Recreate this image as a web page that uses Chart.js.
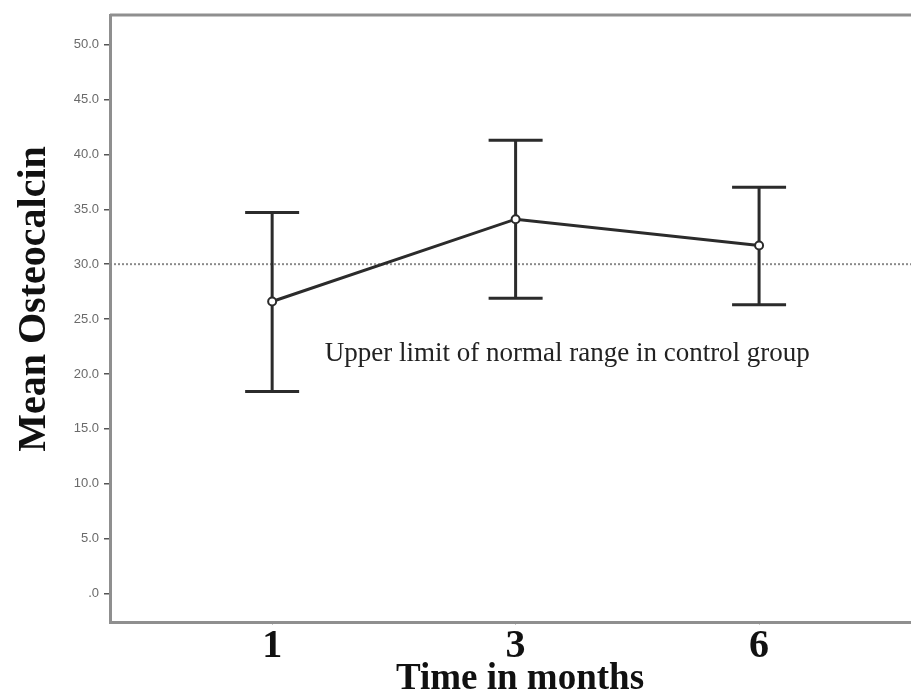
<!DOCTYPE html>
<html>
<head>
<meta charset="utf-8">
<script src="https://cdn.jsdelivr.net/npm/chart.js@4/dist/chart.umd.min.js"></script>
<style>
  html, body { margin: 0; padding: 0; background: #fff; overflow: hidden; }
  #wrap { width: 911px; height: 694px; position: relative; }
  canvas { display: block; }
</style>
</head>
<body>
<div id="wrap"><canvas id="chart"></canvas></div>
<script>
const months = ["1", "3", "6"]
const meanValues = [26.6, 34.1, 31.7]
const upperValues = [34.7, 41.3, 37.0]
const lowerValues = [18.4, 26.9, 26.3]
const yTickValues = [0, 5, 10, 15, 20, 25, 30, 35, 40, 45, 50]
const referenceValue = 30
const referenceLabel = "Upper limit of normal range in control group"
const xTitle = "Time in months"
const yTitle = "Mean Osteocalcin"

const ink = "#2b2b2b"
const axisGray = "#8f8f8f"

// error bars, dotted reference line and its label, drawn under the mean line
const extrasPlugin = {
  id: "extras",
  beforeDatasetsDraw(chart) {
    const { ctx, chartArea, scales } = chart
    const x = scales.x, y = scales.y
    ctx.save()

    // reference line
    const ry = y.getPixelForValue(referenceValue)
    ctx.strokeStyle = "#8a8a8a"
    ctx.lineWidth = 2
    ctx.setLineDash([2, 2])
    ctx.beginPath()
    ctx.moveTo(chartArea.left, ry)
    ctx.lineTo(chartArea.right, ry)
    ctx.stroke()
    ctx.setLineDash([])

    // error bars
    ctx.strokeStyle = ink
    ctx.lineWidth = 3
    const cap = 27
    months.forEach((m, i) => {
      const px = x.getPixelForValue(i)
      const top = y.getPixelForValue(upperValues[i])
      const bot = y.getPixelForValue(lowerValues[i])
      ctx.beginPath()
      ctx.moveTo(px, top); ctx.lineTo(px, bot)
      ctx.moveTo(px - cap, top); ctx.lineTo(px + cap, top)
      ctx.moveTo(px - cap, bot); ctx.lineTo(px + cap, bot)
      ctx.stroke()
    })

    // label under the line
    ctx.fillStyle = "#222"
    ctx.font = "27px 'Liberation Serif', 'Times New Roman', serif"
    ctx.textBaseline = "alphabetic"
    ctx.textAlign = "left"
    ctx.fillText(referenceLabel, x.getPixelForValue(0.216), y.getPixelForValue(21.2))
    ctx.restore()
  },
  afterDraw(chart) {
    const { ctx, chartArea } = chart
    ctx.save()
    // top frame line
    ctx.strokeStyle = axisGray
    ctx.lineWidth = 3
    ctx.beginPath()
    ctx.moveTo(chartArea.left, chartArea.top)
    ctx.lineTo(chartArea.right, chartArea.top)
    ctx.stroke()

    // axis titles (the original sits a little off the plot centre)
    ctx.fillStyle = "#111"
    ctx.textAlign = "center"
    ctx.textBaseline = "alphabetic"
    ctx.font = "bold 37px 'Liberation Serif', 'Times New Roman', serif"
    ctx.fillText(xTitle, 520, 689)

    ctx.font = "bold 40px 'Liberation Serif', 'Times New Roman', serif"
    ctx.translate(45, 299)
    ctx.rotate(-Math.PI / 2)
    ctx.fillText(yTitle, 0, 0)
    ctx.restore()
  }
}

const ctx = document.getElementById("chart").getContext("2d")
new Chart(ctx, {
  type: "line",
  data: {
    datasets: [{
      label: yTitle,
      data: months.map((m, i) => ({ x: i, y: meanValues[i] })),
      borderColor: ink,
      borderWidth: 3,
      pointRadius: 4,
      pointBackgroundColor: "#fff",
      pointBorderColor: ink,
      pointBorderWidth: 2,
      tension: 0
    }]
  },
  options: {
    responsive: true,
    maintainAspectRatio: false,
    animation: false,
    layout: { autoPadding: false, padding: { top: 15, right: 0, left: 0, bottom: 0 } },
    plugins: { legend: { display: false }, tooltip: { enabled: false } },
    scales: {
      x: {
        type: "linear",
        min: -0.666,
        max: 2.624,
        afterBuildTicks: (axis) => { axis.ticks = months.map((m, i) => ({ value: i })) },
        afterFit: (axis) => {
          axis.height = 72
          axis.paddingLeft = 0
          axis.paddingRight = 0
        },
        grid: { drawOnChartArea: false, drawTicks: true, tickLength: 3, color: "#c8c8c8" },
        border: { display: true, color: axisGray, width: 3 },
        ticks: {
          padding: -2,
          color: "#111",
          font: { family: "'Liberation Serif', serif", size: 40, weight: "bold" },
          callback: (v) => months[v] ?? ""
        }
      },
      y: {
        min: -2.6,
        max: 52.7,
        afterBuildTicks: (axis) => { axis.ticks = yTickValues.map((v) => ({ value: v })) },
        afterFit: (axis) => { axis.width = 110 },
        grid: { drawOnChartArea: false, drawTicks: true, tickLength: 6, color: "#555", lineWidth: 1.5 },
        border: { display: true, color: axisGray, width: 3 },
        ticks: {
          padding: 5,
          color: "#6a6a6a",
          font: { family: "'Liberation Sans', Arial, sans-serif", size: 13 },
          callback: (v) => (v === 0 ? ".0" : v.toFixed(1))
        }
      }
    }
  },
  plugins: [extrasPlugin]
})
</script>
</body>
</html>
